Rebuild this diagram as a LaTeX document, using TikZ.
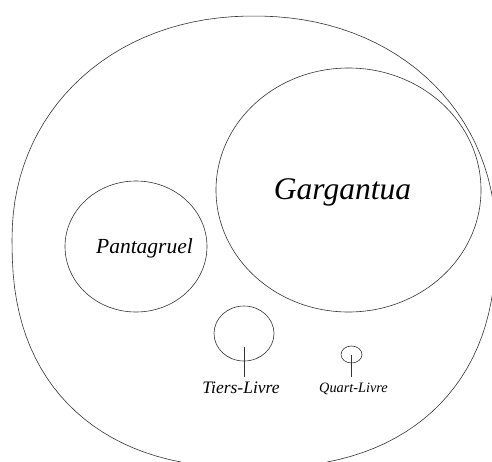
\documentclass[tikz,border=0pt]{standalone}
\usepackage{fontspec}
\setmainfont{Liberation Serif}
\usetikzlibrary{calc,shapes.geometric}

\begin{document}
\begin{tikzpicture}[
    x=1pt, y=-1pt,
    book/.style={ellipse,draw=black!80,line width=0.6pt,inner sep=0pt},
    title/.style={font=\itshape\fontsize{#1}{#1}\selectfont,
                  inner sep=0pt,anchor=base},
    stem/.style={draw=black!80,line width=0.6pt}
]
\useasboundingbox (0,0) rectangle (492,461);

% the whole work (a slightly fuller ellipse)
\draw[black!80,line width=0.6pt]
  plot[domain=0.01:179.99,samples=60,variable=\t]
    ({254+242*cos(\t)*abs(cos(\t))^(-0.048)},{240-224*abs(sin(\t))^0.952})
  -- plot[domain=180.01:359.99,samples=60,variable=\t]
    ({254+242*cos(\t)*abs(cos(\t))^(-0.149)},{240+228*abs(sin(\t))^0.851})
  -- cycle;

% books
\node[book,minimum width=265pt,minimum height=244pt] (garg)  at (348.5,190) {};
\node[book,minimum width=142pt,minimum height=131pt] (panta) at (136,246.5) {};
\node[book,minimum width=60pt, minimum height=55pt]  (tiers) at (244,333.5) {};
\node[book,minimum width=21pt, minimum height=17pt]  (quart) at (351.5,354.5) {};

% titles
\node[title=31.5] (gargtext)  at (342.5,199) {Gargantua};
\node[title=21.5] (pantatext) at (144.5,253) {Pantagruel};
\node[title=17.5] (tierstext) at (241,393)   {Tiers-Livre};
\node[title=14.3] (quarttext) at (353.5,392) {Quart-Livre};

% stems
\coordinate (tiersin) at (244,347);
\coordinate (quartin) at (351,355);
\draw[stem] (tiersin) -- ($(tiersin |- tierstext.north)+(0,-4)$);
\draw[stem] (quartin) -- ($(quartin |- quarttext.north)+(0,-5)$);

\end{tikzpicture}
\end{document}
